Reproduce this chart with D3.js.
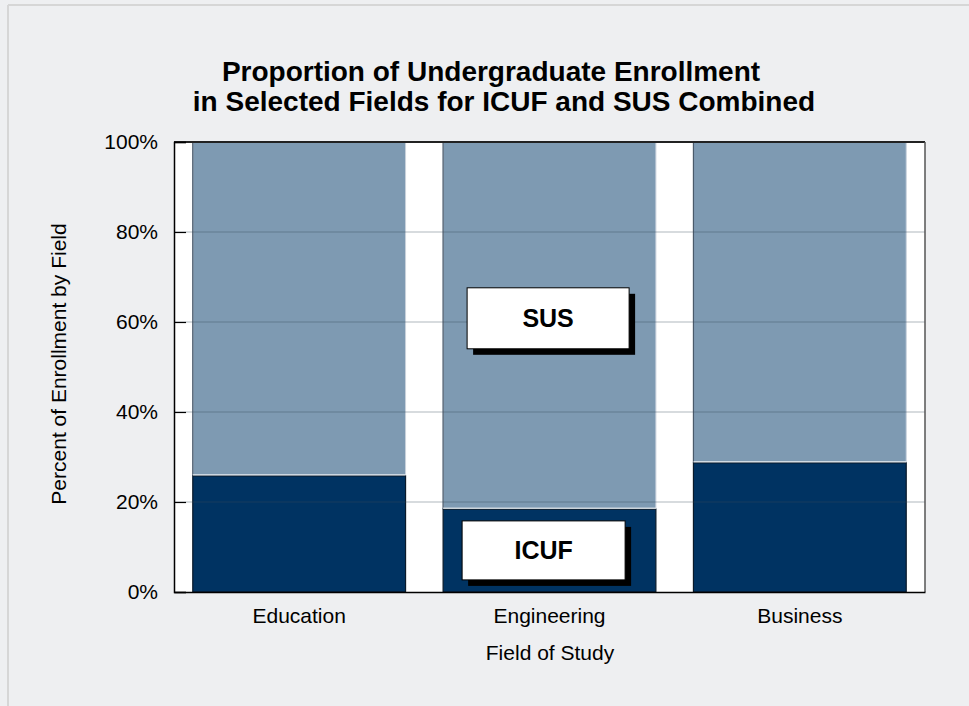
<!DOCTYPE html>
<html>
<head>
<meta charset="utf-8">
<script src="https://cdn.jsdelivr.net/npm/d3@7"></script>
<style>
  html, body { margin: 0; padding: 0; background: #eeeff1; }
  svg { display: block; font-family: "Liberation Sans", Arial, sans-serif; }
</style>
</head>
<body>
<svg id="chart" width="969" height="706"></svg>
<script>
const categories = ["Education", "Engineering", "Business"];
const icufValues = [25.8, 18.4, 28.7];
const susValues = [74.2, 81.6, 71.3];
const yTicks = [0, 20, 40, 60, 80, 100];
const titleLines = ["Proportion of Undergraduate Enrollment", "in Selected Fields for ICUF and SUS Combined"];

const svg = d3.select("#chart");
const W = 969, H = 706;
const m = { left: 174, right: 44, top: 142, bottom: 114 };
const iw = W - m.left - m.right, ih = H - m.top - m.bottom;
const FONT = "Liberation Sans, Arial, sans-serif";

svg.append("rect").attr("width", W).attr("height", H).attr("fill", "#eeeff1");
svg.append("line").attr("x1", 8).attr("x2", W).attr("y1", 5).attr("y2", 5).attr("stroke", "#d6d6d6").attr("stroke-width", 2);
svg.append("line").attr("x1", 8).attr("x2", 8).attr("y1", 5).attr("y2", H).attr("stroke", "#d6d6d6").attr("stroke-width", 2);

const x = d3.scaleBand().domain(categories).range([0, iw]).paddingInner(0.15).paddingOuter(0.075);
const y = d3.scaleLinear().domain([0, 100]).range([ih, 0]);

const g = svg.append("g").attr("transform", `translate(${m.left},${m.top})`);
g.append("rect").attr("width", iw).attr("height", ih).attr("fill", "#ffffff");

const data = categories.map((c, i) => ({ c, icuf: icufValues[i], sus: susValues[i] }));

// SUS segments
g.selectAll(".sus").data(data).join("rect")
  .attr("x", d => x(d.c)).attr("width", x.bandwidth())
  .attr("y", d => y(d.icuf + d.sus)).attr("height", d => y(d.icuf) - y(d.icuf + d.sus))
  .attr("fill", "#7e9ab2").attr("stroke", "#c9d2dc").attr("stroke-width", 1);
g.selectAll(".susEdge").data(data).join("line")
  .attr("x1", d => x(d.c)).attr("x2", d => x(d.c))
  .attr("y1", d => y(d.icuf + d.sus)).attr("y2", d => y(d.icuf))
  .attr("stroke", "#4a5a6a").attr("stroke-width", 1.2);

// ICUF segments
g.selectAll(".icuf").data(data).join("rect")
  .attr("x", d => x(d.c)).attr("width", x.bandwidth())
  .attr("y", d => y(d.icuf)).attr("height", d => y(0) - y(d.icuf))
  .attr("fill", "#003362").attr("stroke", "#0a1a2a").attr("stroke-width", 1.2);
g.selectAll(".icufTop").data(data).join("line")
  .attr("x1", d => x(d.c)).attr("x2", d => x(d.c) + x.bandwidth())
  .attr("y1", d => y(d.icuf) - 1).attr("y2", d => y(d.icuf) - 1)
  .attr("stroke", "#ffffff").attr("stroke-width", 1);

// gridlines
g.selectAll(".grid").data(yTicks.filter(t => t > 0 && t < 100)).join("line")
  .attr("x1", 0).attr("x2", iw).attr("y1", d => y(d)).attr("y2", d => y(d))
  .attr("stroke", "#3a4a5a").attr("stroke-opacity", 0.4).attr("stroke-width", 1);

// frame
g.append("line").attr("x1", 0).attr("x2", iw).attr("y1", 0).attr("y2", 0).attr("stroke", "#222").attr("stroke-width", 2);
g.append("line").attr("x1", iw).attr("x2", iw).attr("y1", 0).attr("y2", ih).attr("stroke", "#555").attr("stroke-width", 1.5);

// y axis
const yAxis = g.append("g").call(d3.axisLeft(y).tickValues(yTicks).tickSize(-12).tickPadding(16).tickFormat(d => d + "%"));
yAxis.select(".domain").attr("stroke", "#000").attr("stroke-width", 1.5);
yAxis.selectAll(".tick line").attr("stroke", "#000").attr("stroke-width", 1.2);
yAxis.selectAll("text").attr("font-size", 21).attr("fill", "#000").attr("font-family", FONT);

// x axis
const xAxis = g.append("g").attr("transform", `translate(0,${ih})`)
  .call(d3.axisBottom(x).tickSize(0).tickPadding(16));
xAxis.select(".domain").attr("stroke", "#000").attr("stroke-width", 1.5);
xAxis.selectAll("text").attr("font-size", 21).attr("fill", "#000").attr("font-family", FONT);

// axis titles
svg.append("text").attr("x", 550).attr("y", 660).attr("text-anchor", "middle")
  .attr("font-size", 21).text("Field of Study");
svg.append("text").attr("transform", `translate(66,364) rotate(-90)`).attr("text-anchor", "middle")
  .attr("font-size", 21).text("Percent of Enrollment by Field");

// title
svg.append("text").attr("x", 491).attr("y", 81).attr("text-anchor", "middle")
  .attr("font-size", 28).attr("font-weight", "bold").text(titleLines[0]);
svg.append("text").attr("x", 504).attr("y", 111).attr("text-anchor", "middle")
  .attr("font-size", 28).attr("font-weight", "bold").text(titleLines[1]);

// label boxes on Engineering bar
const eng = "Engineering";
const labels = [
  { text: "SUS", top: 67.6, dx: 24, w: 162, h: 61 },
  { text: "ICUF", top: 15.8, dx: 19, w: 163, h: 59 }
];
labels.forEach(l => {
  const bx = x(eng) + l.dx, by = y(l.top);
  g.append("rect").attr("x", bx + 6).attr("y", by + 6).attr("width", l.w).attr("height", l.h).attr("fill", "#000");
  g.append("rect").attr("x", bx).attr("y", by).attr("width", l.w).attr("height", l.h)
    .attr("fill", "#fff").attr("stroke", "#000").attr("stroke-width", 1);
  g.append("text").attr("x", bx + l.w / 2).attr("y", by + l.h / 2 + 9).attr("text-anchor", "middle")
    .attr("font-size", 25).attr("font-weight", "bold").text(l.text);
});
</script>
</body>
</html>
